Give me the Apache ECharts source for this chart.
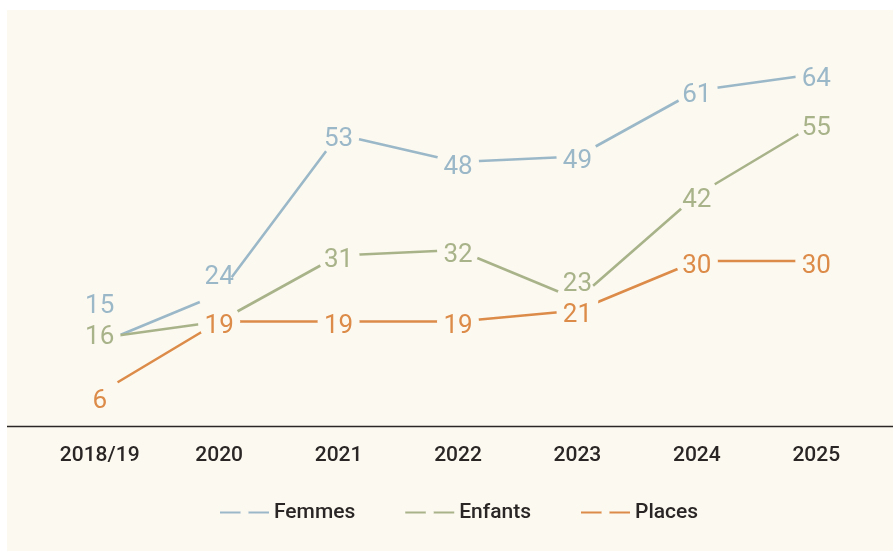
<!DOCTYPE html>
<html>
<head>
<meta charset="utf-8">
<script src="https://cdn.jsdelivr.net/npm/echarts@6/dist/echarts.min.js"></script>
<style>
  html, body { margin: 0; padding: 0; background: #fff; }
  #chart { width: 893px; height: 552px; }
</style>
</head>
<body>
<div id="chart"></div>
<script>
const categories = ["2018/19", "2020", "2021", "2022", "2023", "2024", "2025"];
const femmes = [15, 24, 53, 48, 49, 61, 64];
const enfants = [16, 19, 31, 32, 23, 42, 55];
const places = [6, 19, 19, 19, 21, 30, 30];

const bg = "#fcf9f0";
const colors = {
  femmes: "#9bb8c9",
  enfants: "#a9b38a",
  places: "#dc8b48",
};

const chart = echarts.init(document.getElementById("chart"));

const makeSeries = (name, values, color, labelTweaks) => ({
  name,
  type: "line",
  data: values.map((v, i) => {
    const t = labelTweaks[i];
    if (!t) return v;
    return { value: v, label: t };
  }),
  symbol: "circle",
  symbolSize: 42,
  showAllSymbol: true,
  itemStyle: { color: bg },
  lineStyle: { color, width: 2.6 },
  label: {
    show: true,
    position: "inside",
    offset: [0, 5],
    color,
    fontFamily: "Roboto",
    fontSize: 26,
  },
  emphasis: { disabled: true },
  animation: false,
});

const option = {
  backgroundColor: "#fff",
  graphic: [
    {
      type: "rect",
      z: -10,
      shape: { x: 7, y: 10, width: 886, height: 541 },
      style: { fill: bg },
    },
    {
      type: "line",
      z: 1,
      shape: { x1: 7, y1: 426.5, x2: 893, y2: 426.5 },
      style: { stroke: "#2b2727", lineWidth: 1.3 },
    },
  ],
  grid: { left: 40, right: 17, top: 41, bottom: 126 },
  xAxis: {
    type: "category",
    data: categories,
    boundaryGap: true,
    axisLine: { show: false },
    axisTick: { show: false },
    axisLabel: {
      margin: 19,
      color: "#2a2626",
      fontFamily: "Roboto",
      fontWeight: 500,
      fontSize: 21,
    },
  },
  yAxis: {
    type: "value",
    min: 0,
    max: 70,
    show: false,
    splitLine: { show: false },
  },
  legend: {
    bottom: 24,
    left: 214,
    itemWidth: 49,
    itemHeight: 10,
    itemGap: 49,
    textStyle: {
      color: "#2a2626",
      fontFamily: "Roboto",
      fontWeight: 500,
      fontSize: 21,
    },
    data: ["Femmes", "Enfants", "Places"],
  },
  series: [
    makeSeries("Femmes", femmes, colors.femmes, {
      0: { offset: [0, -37] },
      1: { offset: [0, -17] },
    }),
    makeSeries("Enfants", enfants, colors.enfants, {
      0: { offset: [0, -1] },
      1: { show: false },
      4: { offset: [0, -15] },
    }),
    makeSeries("Places", places, colors.places, {
      0: { offset: [0, 8] },
      4: { offset: [0, 5] },
    }),
  ],
};

chart.setOption(option);
</script>
</body>
</html>
